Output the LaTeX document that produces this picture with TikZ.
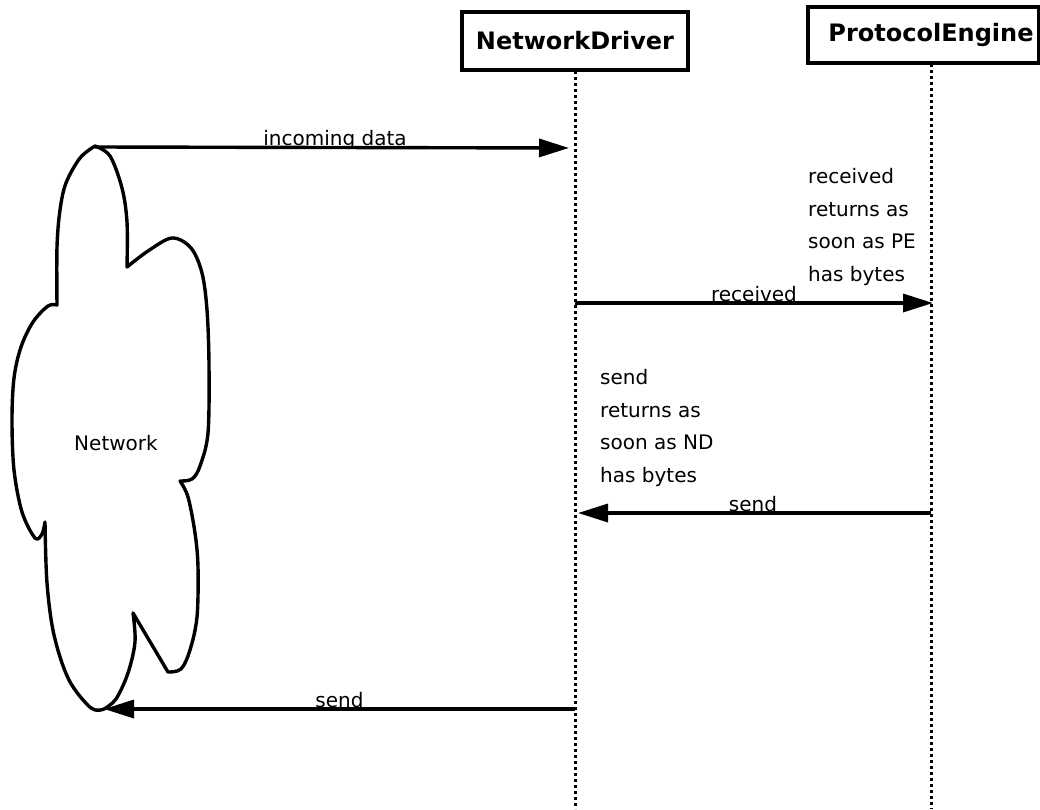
\documentclass[tikz,border=0pt]{standalone}
\usepackage{fontspec}
\setmainfont{DejaVu Sans}
\usetikzlibrary{arrows.meta}
\begin{document}
\begin{tikzpicture}[x=1pt,y=-1pt,
  hdr/.style={draw, line width=3.6pt, inner sep=0pt, font=\fontsize{24}{28}\selectfont\bfseries},
  life/.style={line width=3pt, dash pattern=on 3pt off 3pt},
  msg/.style={line width=3.4pt, -{Triangle[length=30pt,width=18pt]}},
  lbl/.style={inner sep=0pt, anchor=base, font=\fontsize{20}{24}\selectfont},
  note/.style={inner sep=0pt, anchor=base west, align=left, font=\fontsize{20}{32.5}\selectfont},
  cloudline/.style={line width=3.4pt, line join=round}]
\useasboundingbox (0,0) rectangle (1040,809);
% headers
\node[hdr, minimum width=226pt, minimum height=58pt] (ND) at (575,41) {NetworkDriver};
\node[hdr, minimum width=231pt, minimum height=56pt] (PE) at (923.5,35) {\hspace*{15pt}ProtocolEngine};
% lifeline coordinates
\coordinate (ndTop) at (575,71);
\coordinate (ndEnd) at (575,809);
\coordinate (peTop) at (931,64);
\coordinate (peEnd) at (931,809);
\draw[life] (ndTop) -- (ndEnd);
\draw[life] (peTop) -- (peEnd);
% cloud
\draw[cloudline]
  plot[smooth, tension=0.55] coordinates {(95,146) (110,156) (122,188) (127,222) (127,267)}
  -- plot[smooth, tension=0.55] coordinates {(127,267) (148,251) (172,238) (191,248) (202,273) (207,310) (209,365) (208,433) (200,466) (192,479) (180,481)}
  -- plot[smooth, tension=0.55] coordinates {(180,481) (188,497) (195,533) (198,567) (197,617) (190,650) (181,669) (168,672)}
  -- (133,613)
  -- plot[smooth, tension=0.55] coordinates {(133,613) (135,642) (128,673) (116,699) (104,709)}
  -- plot[smooth, tension=0.55] coordinates {(104,709) (91,708) (69,680) (54,635) (47,583) (45,522)}
  -- plot[smooth, tension=0.55] coordinates {(45,522) (42,534) (35,538) (22,512) (14,470) (12,420) (14,378) (21,347) (33,322) (48,306) (57,305)}
  -- plot[smooth, tension=0.55] coordinates {(57,305) (57,247) (60,210) (66,183) (80,158) (95,146)}
  -- cycle;
\node[lbl] (net) at (116,450) {Network};
\coordinate (cloudtop) at (95,147);
\coordinate (cloudbot) at (104,709);
% message coordinates
\coordinate (ndA) at (575,148);
\coordinate (ndB) at (575,303);
\coordinate (peB) at (933,303);
\coordinate (peC) at (931,513);
\coordinate (ndC) at (575,513);
\coordinate (ndD) at (575,709);
% messages
\draw[msg, shorten >=6pt] (cloudtop) -- (ndA) node[lbl, midway, yshift=2pt] (l1) {incoming data};
\draw[msg] (ndB) -- (peB) node[lbl, midway, yshift=2pt] (l2) {received};
\draw[msg, shorten >=3pt] (peC) -- (ndC) node[lbl, midway, yshift=2pt] (l3) {send};
\draw[msg] (ndD) -- (cloudbot) node[lbl, midway, yshift=2pt] (l4) {send};
% notes
\node[note] (noteR) at (808,281) {received\\returns as\\soon as PE\\has bytes};
\node[note] (noteS) at (600,482) {send\\returns as\\soon as ND\\has bytes};
\end{tikzpicture}
\end{document}
